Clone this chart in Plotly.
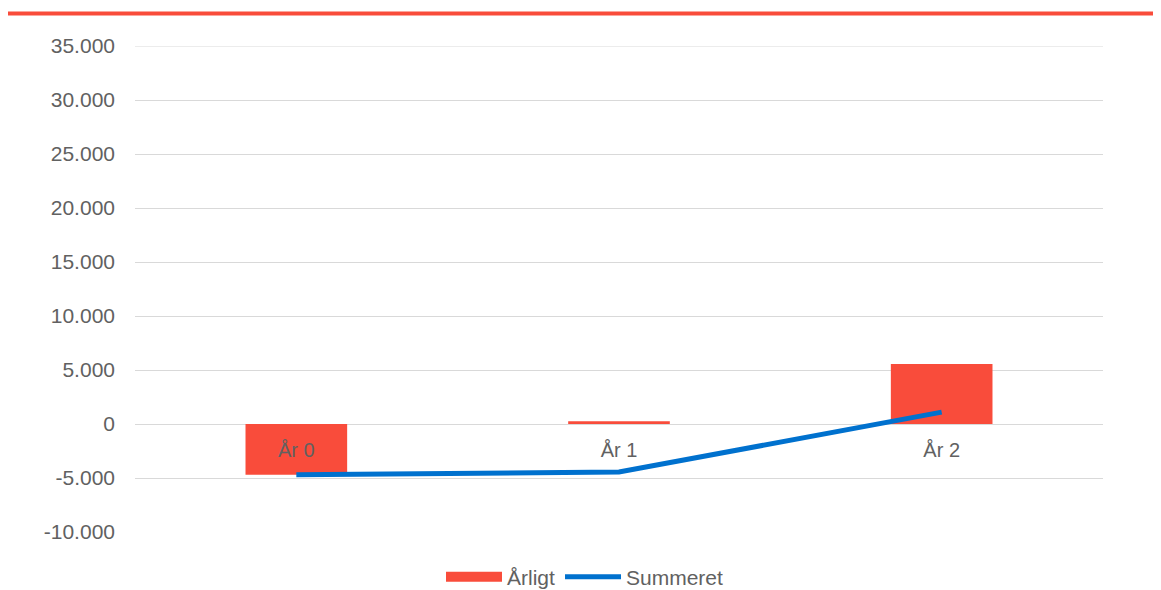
import plotly.graph_objects as go

categories = ["År 0", "År 1", "År 2"]
aarligt = [-4700, 250, 5550]
summeret = [-4700, -4450, 1100]
y_ticks = [-10000, -5000, 0, 5000, 10000, 15000, 20000, 25000, 30000, 35000]
y_tick_labels = ["-10.000", "-5.000", "0", "5.000", "10.000", "15.000",
                 "20.000", "25.000", "30.000", "35.000"]

RED = "#F94C3B"
BLUE = "#0071CE"
GREY = "#616161"

# page body has an 8px margin; compensate so the plot lands at the reference pixels
OFF = 8
W, H = 1161 - OFF, 590 - OFF
L, T, R, B = 135 - OFF, 46 - OFF, 58, 58
PW, PH = W - L - R, H - T - B

fig = go.Figure()
fig.add_trace(go.Bar(
    x=categories, y=aarligt, name="Årligt", showlegend=False,
    marker=dict(color=RED, line=dict(width=0)), width=0.315,
))
# legend swatch for the bars (wide rectangle as in the reference)
fig.add_trace(go.Scatter(
    x=[None], y=[None], name="Årligt", mode="lines",
    line=dict(color=RED, width=11), hoverinfo="skip",
))
fig.add_trace(go.Scatter(
    x=categories, y=summeret, name="Summeret", mode="lines",
    line=dict(color=BLUE, width=5),
))

fig.update_layout(
    width=W, height=H,
    margin=dict(l=L, r=R, t=T, b=B, autoexpand=False),
    paper_bgcolor="white", plot_bgcolor="white",
    separators=",.",
    font=dict(family="Liberation Sans, Arial, sans-serif", size=21, color=GREY),
    showlegend=True,
    legend=dict(orientation="h", x=0.5 - 34 / PW, xanchor="center",
                yref="container", y=(H - (577 - OFF)) / H, yanchor="middle",
                font=dict(size=21, color=GREY), itemwidth=56,
                tracegroupgap=0, traceorder="normal"),
    xaxis=dict(anchor="free", position=(532 - 424) / (532 - 46),
               showgrid=False, showline=False,
               ticks="", tickfont=dict(size=20, color=GREY), ticklabelstandoff=12),
    yaxis=dict(range=[-10000, 35000], tickvals=y_ticks, ticktext=y_tick_labels,
               showgrid=True, gridcolor="#D9D9D9", gridwidth=1,
               zeroline=True, zerolinecolor="#D9D9D9", zerolinewidth=1,
               showline=False, ticks="", tickfont=dict(size=21, color=GREY),
               ticklabelstandoff=19),
    shapes=[
        dict(type="line", xref="paper", yref="paper",
             x0=(8 - 135) / PW, x1=(1161 - 135) / PW,
             y0=(532 - 13.5) / PH, y1=(532 - 13.5) / PH,
             line=dict(color=RED, width=4)),
        dict(type="line", xref="paper", yref="y", x0=0, x1=1, y0=35000, y1=35000,
             line=dict(color="#D9D9D9", width=1), layer="below"),
    ],
)

fig.write_html("out.html")
